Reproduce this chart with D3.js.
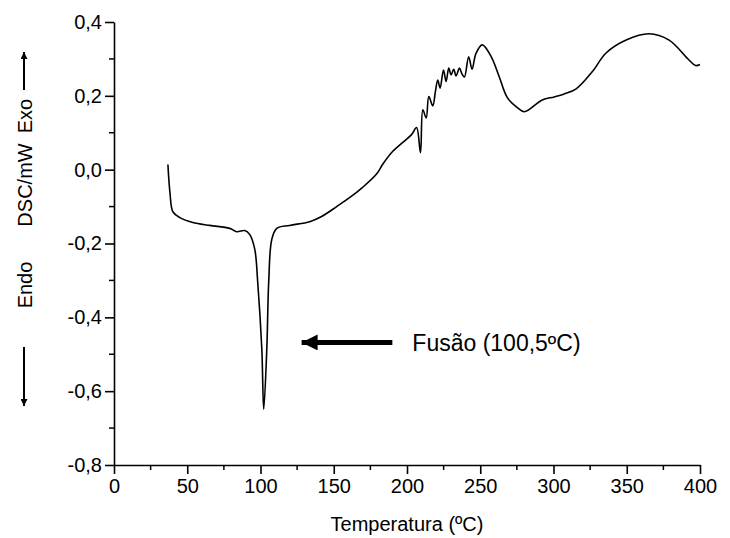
<!DOCTYPE html>
<html>
<head>
<meta charset="utf-8">
<script src="https://cdn.jsdelivr.net/npm/d3@7"></script>
<style>
  body { margin: 0; background: #fff; }
  svg { display: block; font-family: "Liberation Sans", Arial, sans-serif; }
</style>
</head>
<body>
<div id="chart"></div>
<script>
// DSC curve
const temps = [36.8, 38.2, 40.2, 45.0, 53.8, 65.4, 79.0, 83.8, 89.3, 92.7, 96.1, 98.1, 100.9, 102.2,
  104.3, 105.6, 107.7, 111.1, 119.9, 133.6, 141.7, 152.0, 160.8, 169.7, 179.2, 183.3, 189.4, 196.9,
  203.1, 206.5, 209.2, 210.8, 213.1, 214.9, 217.6, 219.4, 221.0, 222.6, 224.9, 226.7, 228.5, 230.1,
  231.9, 233.5, 235.8, 237.6, 239.2, 242.1, 244.4, 247.1, 251.4, 257.6, 263.0, 268.5, 275.3, 280.1,
  292.3, 300.5, 307.3, 315.5, 326.4, 335.9, 349.6, 365.2, 378.9, 392.5, 397.0, 400.0];
const dsc = [0.014, -0.062, -0.114, -0.130, -0.143, -0.151, -0.159, -0.168, -0.165, -0.176, -0.216, -0.305, -0.486, -0.649,
  -0.486, -0.305, -0.189, -0.159, -0.151, -0.141, -0.127, -0.100, -0.076, -0.048, -0.012, 0.014, 0.046, 0.073,
  0.095, 0.114, 0.046, 0.162, 0.140, 0.198, 0.173, 0.212, 0.243, 0.221, 0.270, 0.239, 0.275, 0.257,
  0.272, 0.254, 0.275, 0.259, 0.251, 0.306, 0.272, 0.315, 0.338, 0.305, 0.251, 0.195, 0.168, 0.157,
  0.189, 0.197, 0.205, 0.219, 0.265, 0.316, 0.351, 0.368, 0.351, 0.297, 0.282, 0.285];

const xTicks = [0, 50, 100, 150, 200, 250, 300, 350, 400];
const yTicks = [-0.8, -0.6, -0.4, -0.2, 0.0, 0.2, 0.4];

// annotation: arrow tip, arrow tail, label
const noteTip = [126.7, -0.468];
const noteTail = [190, -0.468];
const noteText = "Fusão (100,5ºC)";

const width = 730;
const height = 538;
const margin = { top: 22, right: 30, bottom: 73, left: 114 };

const svg = d3.select("#chart").append("svg")
  .attr("width", width)
  .attr("height", height);

const x = d3.scaleLinear().domain([0, 400]).range([margin.left, width - margin.right]);
const y = d3.scaleLinear().domain([-0.8, 0.4]).range([height - margin.bottom, margin.top]);

const fmt = d => d3.format(".1f")(d).replace(".", ",").replace("\u2212", "-");

const xMinor = d3.range(25, 400, 50);
const yMinor = d3.range(-0.7, 0.4, 0.2);

const xAxis = svg.append("g")
  .attr("transform", `translate(0,${y(-0.8)})`)
  .call(d3.axisBottom(x).tickValues(xTicks).tickSize(9).tickSizeOuter(0).tickPadding(5).tickFormat(d => d));

svg.append("g")
  .attr("transform", `translate(0,${y(-0.8)})`)
  .selectAll("line").data(xMinor).join("line")
  .attr("x1", d => x(d)).attr("x2", d => x(d))
  .attr("y1", 0).attr("y2", 5)
  .attr("stroke", "#000").attr("stroke-width", 1.5);

const yAxis = svg.append("g")
  .attr("transform", `translate(${x(0)},0)`)
  .call(d3.axisLeft(y).tickValues(yTicks).tickSize(9).tickSizeOuter(0).tickPadding(3).tickFormat(fmt));

svg.append("g")
  .attr("transform", `translate(${x(0)},0)`)
  .selectAll("line").data(yMinor).join("line")
  .attr("y1", d => y(d)).attr("y2", d => y(d))
  .attr("x1", 0).attr("x2", -5)
  .attr("stroke", "#000").attr("stroke-width", 1.5);

[xAxis, yAxis].forEach(a => {
  a.select(".domain").attr("stroke-width", 1.6);
  a.selectAll(".tick line").attr("stroke-width", 1.6);
  a.selectAll("text").attr("font-size", 20).attr("fill", "#000")
    .style("font-family", "'Liberation Sans', Arial, sans-serif");
});

// the curve
const pts = temps.map((t, i) => [t, dsc[i]]);
const line = d3.line()
  .x(d => x(d[0]))
  .y(d => y(d[1]))
  .curve(d3.curveCatmullRom.alpha(0.5));

svg.append("path")
  .datum(pts)
  .attr("fill", "none")
  .attr("stroke", "#000")
  .attr("stroke-width", 1.6)
  .attr("stroke-linejoin", "round")
  .attr("d", line);

// axis titles
svg.append("text")
  .attr("x", (x(0) + x(400)) / 2)
  .attr("y", 531)
  .attr("text-anchor", "middle")
  .attr("font-size", 20)
  .text("Temperatura (ºC)");

const ylab = svg.append("g").attr("transform", "translate(32,0)");
[["Endo", 285], ["DSC/mW", 185], ["Exo", 116]].forEach(([t, cy]) => {
  ylab.append("text")
    .attr("transform", `translate(0,${cy}) rotate(-90)`)
    .attr("text-anchor", "middle")
    .attr("font-size", 20)
    .text(t);
});

// arrow markers
const defs = svg.append("defs");
defs.append("marker")
  .attr("id", "head")
  .attr("viewBox", "0 0 10 10")
  .attr("refX", 10).attr("refY", 5)
  .attr("markerWidth", 17).attr("markerHeight", 16)
  .attr("markerUnits", "userSpaceOnUse")
  .attr("orient", "auto")
  .append("path").attr("d", "M0,0L10,5L0,10Z").attr("fill", "#000");

defs.append("marker")
  .attr("id", "headSmall")
  .attr("viewBox", "0 0 10 10")
  .attr("refX", 10).attr("refY", 5)
  .attr("markerWidth", 14).attr("markerHeight", 7)
  .attr("markerUnits", "userSpaceOnUse")
  .attr("orient", "auto")
  .append("path").attr("d", "M0,0L10,5L0,10Z").attr("fill", "#000");

// Exo / Endo arrows
svg.append("line")
  .attr("x1", 24).attr("x2", 24).attr("y1", 90).attr("y2", 52)
  .attr("stroke", "#000").attr("stroke-width", 2)
  .attr("marker-end", "url(#headSmall)");
svg.append("line")
  .attr("x1", 24).attr("x2", 24).attr("y1", 347).attr("y2", 406)
  .attr("stroke", "#000").attr("stroke-width", 2)
  .attr("marker-end", "url(#headSmall)");

// melting annotation
svg.append("line")
  .attr("x1", x(noteTail[0])).attr("y1", y(noteTip[1]))
  .attr("x2", x(noteTip[0]) + 2).attr("y2", y(noteTip[1]))
  .attr("stroke", "#000").attr("stroke-width", 5)
  .attr("marker-end", "url(#head)");

svg.append("text")
  .attr("x", x(noteTail[0]) + 20)
  .attr("y", y(noteTip[1]) + 9)
  .attr("font-size", 23)
  .text(noteText);
</script>
</body>
</html>
